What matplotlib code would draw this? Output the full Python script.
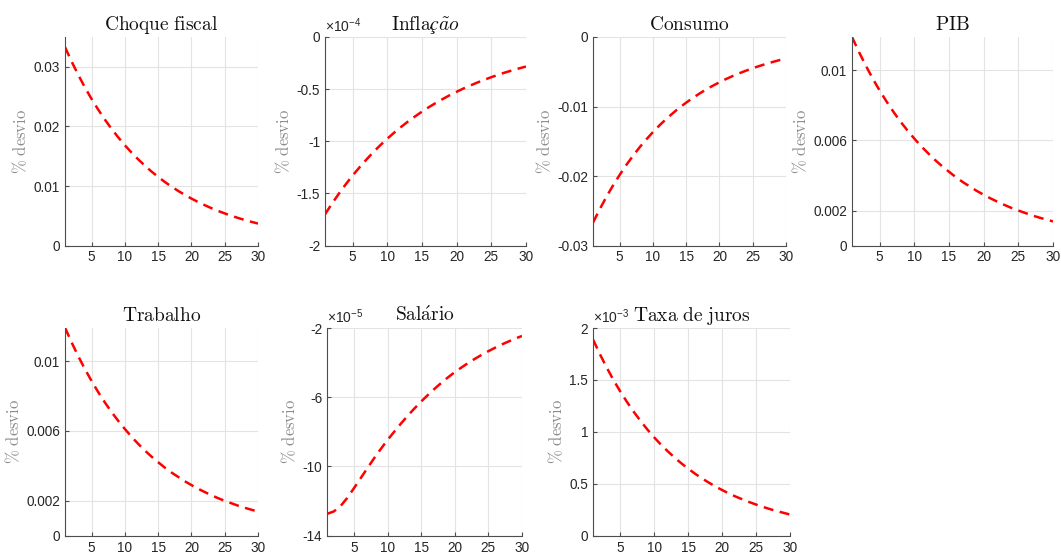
import matplotlib
matplotlib.use("Agg")
import matplotlib.pyplot as plt

plt.rcParams["font.family"] = ["Liberation Sans", "DejaVu Sans"]
plt.rcParams["mathtext.fontset"] = "custom"
plt.rcParams["mathtext.rm"] = "Liberation Sans"
plt.rcParams["mathtext.it"] = "Liberation Sans:italic"

# Horizon (quarters after the shock)
periodos = list(range(1, 31))

choque_fiscal = [0.03330, 0.03087, 0.02862, 0.02653, 0.02459, 0.02280, 0.02113, 0.01959,
                 0.01816, 0.01683, 0.01561, 0.01447, 0.01341, 0.01243, 0.01152, 0.01068,
                 0.00990, 0.00918, 0.00851, 0.00789, 0.00731, 0.00678, 0.00628, 0.00582,
                 0.00540, 0.00500, 0.00464, 0.00430, 0.00399, 0.00370]

# Inflação in units of 1e-4
inflacao = [-1.700, -1.598, -1.502, -1.412, -1.327, -1.248, -1.173, -1.102, -1.036, -0.974,
            -0.916, -0.861, -0.809, -0.761, -0.715, -0.672, -0.632, -0.594, -0.558, -0.525,
            -0.493, -0.464, -0.436, -0.410, -0.385, -0.362, -0.340, -0.320, -0.301, -0.283]

consumo = [-0.02670, -0.02479, -0.02301, -0.02137, -0.01984, -0.01841, -0.01710, -0.01587,
           -0.01474, -0.01368, -0.01270, -0.01179, -0.01095, -0.01016, -0.00944, -0.00876,
           -0.00813, -0.00755, -0.00701, -0.00651, -0.00604, -0.00561, -0.00521, -0.00484,
           -0.00449, -0.00417, -0.00387, -0.00359, -0.00333, -0.00309]

pib = [0.01190, 0.01105, 0.01026, 0.00952, 0.00884, 0.00821, 0.00762, 0.00707,
       0.00657, 0.00610, 0.00566, 0.00526, 0.00488, 0.00453, 0.00421, 0.00390,
       0.00362, 0.00337, 0.00312, 0.00290, 0.00269, 0.00250, 0.00232, 0.00215,
       0.00200, 0.00186, 0.00172, 0.00160, 0.00149, 0.00138]

trabalho = [0.01192, 0.01107, 0.01028, 0.00954, 0.00886, 0.00822, 0.00763, 0.00708,
            0.00658, 0.00611, 0.00567, 0.00526, 0.00488, 0.00453, 0.00421, 0.00390,
            0.00362, 0.00337, 0.00312, 0.00290, 0.00269, 0.00250, 0.00232, 0.00215,
            0.00200, 0.00186, 0.00172, 0.00160, 0.00149, 0.00138]

# Salário in units of 1e-5
salario = [-12.74, -12.60, -12.30, -11.82, -11.26, -10.68, -10.10, -9.53, -8.99, -8.47,
           -7.99, -7.52, -7.07, -6.65, -6.25, -5.87, -5.51, -5.17, -4.85, -4.55,
           -4.28, -4.02, -3.78, -3.55, -3.34, -3.14, -2.95, -2.78, -2.61, -2.46]

# Taxa de juros in units of 1e-3
taxa_juros = [1.890, 1.750, 1.621, 1.501, 1.390, 1.288, 1.193, 1.105, 1.023, 0.947,
              0.877, 0.813, 0.753, 0.697, 0.646, 0.598, 0.554, 0.513, 0.475, 0.440,
              0.407, 0.377, 0.350, 0.324, 0.300, 0.278, 0.257, 0.238, 0.221, 0.204]

titulos = [r"$\mathrm{Choque\ fiscal}$", r"$\mathrm{Infla}$" + r"$ç\tilde{a}o$",
           r"$\mathrm{Consumo}$", r"$\mathrm{PIB}$", r"$\mathrm{Trabalho}$",
           r"$\mathrm{Sal\acute{a}rio}$", r"$\mathrm{Taxa\ de\ juros}$"]
series = [choque_fiscal, inflacao, consumo, pib, trabalho, salario, taxa_juros]
ylims = [(0, 0.035), (-2, 0), (-0.03, 0), (0, 0.0119), (0, 0.0119), (-14, -2), (0, 2)]
yticks = [[0, 0.01, 0.02, 0.03], [-2, -1.5, -1, -0.5, 0], [-0.03, -0.02, -0.01, 0],
          [0, 0.002, 0.006, 0.01], [0, 0.002, 0.006, 0.01], [-14, -10, -6, -2],
          [0, 0.5, 1, 1.5, 2]]
ytick_labels = [["0", "0.01", "0.02", "0.03"], ["-2", "-1.5", "-1", "-0.5", "0"],
                ["-0.03", "-0.02", "-0.01", "0"], ["0", "0.002", "0.006", "0.01"],
                ["0", "0.002", "0.006", "0.01"], ["-14", "-10", "-6", "-2"],
                ["0", "0.5", "1", "1.5", "2"]]
expoentes = [None, -4, None, None, None, -5, -3]

W, H = 1061, 554
# axes boxes in pixels: (left, top, right, bottom)
caixas = [(65, 37, 258, 245.6), (325, 37, 526, 245.6), (593, 37, 786, 245.6),
          (852, 37, 1053, 245.6), (65, 328, 258, 535.7), (327, 328, 522, 535.7),
          (593, 328, 790, 535.7)]

fig = plt.figure(figsize=(W / 100, H / 100), dpi=100)
texto = "#262626"
for i, (tit, y) in enumerate(zip(titulos, series)):
    l, t, r, b = caixas[i]
    ax = fig.add_axes([l / W, 1 - b / H, (r - l) / W, (b - t) / H])
    ax.plot(periodos, y, color="#ff0000", linewidth=1.8, linestyle=(0, (4.0, 2.6)))
    ax.set_xlim(1, 30)
    ax.set_ylim(*ylims[i])
    ax.set_xticks([5, 10, 15, 20, 25, 30])
    ax.set_yticks(yticks[i])
    ax.set_yticklabels(ytick_labels[i])
    ax.grid(True, color="#e3e3e3", linewidth=0.8)
    ax.set_axisbelow(True)
    for s in ("top", "right"):
        ax.spines[s].set_visible(False)
    for s in ("left", "bottom"):
        ax.spines[s].set_color("#4d4d4d")
        ax.spines[s].set_linewidth(0.8)
    ax.tick_params(direction="in", length=3, width=0.8, color="#4d4d4d",
                   labelsize=9.8, labelcolor=texto, pad=3.5)
    ax.set_title(tit, math_fontfamily="cm", fontsize=14, color="#111111", pad=5)
    ax.set_ylabel(r"$\%\ \mathrm{desvio}$", math_fontfamily="cm", fontsize=12,
                  color="#8c8c8c", labelpad=3)
    if expoentes[i] is not None:
        ax.text(0.0, 1.01, r"$\times10^{%d}$" % expoentes[i], transform=ax.transAxes,
                ha="left", va="bottom", fontsize=10, color=texto)

fig.savefig("out.png", dpi=100)
